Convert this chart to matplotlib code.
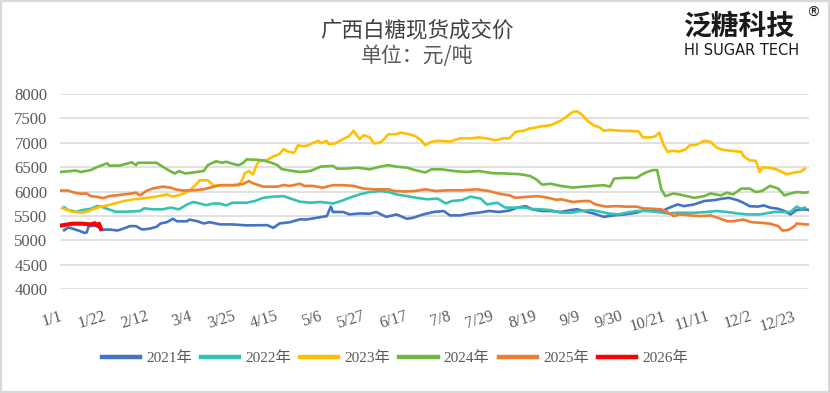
"""Guangxi white sugar spot price, one line per year (day-of-year on x)."""

import matplotlib

matplotlib.use("Agg")
import matplotlib.pyplot as plt  # noqa: E402
from matplotlib.patches import Rectangle  # noqa: E402

# day index (0 = 1/1, leap-year calendar) and price in yuan/ton
DAYS_2021 = [2, 4, 6, 10, 12, 13, 14, 18, 20, 24, 28, 31, 34, 37, 40, 44, 47, 49, 52, 55,
             57, 62, 63, 67, 70, 73, 78, 84, 91, 101, 104, 107, 112, 117, 120, 127, 130,
             132, 133, 138, 141, 146, 151, 154, 159, 164, 169, 172, 177, 182, 187, 190,
             195, 200, 204, 209, 214, 219, 223, 227, 230, 235, 239, 244, 249, 252, 257,
             260, 265, 270, 275, 281, 284, 289, 294, 297, 301, 304, 309, 314, 319, 323,
             326, 330, 333, 336, 340, 343, 346, 350, 353, 356, 359, 363, 365]
PRICE_2021 = [5205, 5260, 5240, 5185, 5150, 5160, 5290, 5300, 5215, 5220, 5200, 5240, 5290,
              5290, 5220, 5240, 5275, 5345, 5370, 5440, 5390, 5390, 5425, 5390, 5345, 5370,
              5325, 5325, 5305, 5310, 5255, 5345, 5370, 5430, 5425, 5475, 5495, 5690, 5580,
              5580, 5530, 5550, 5545, 5580, 5480, 5530, 5440, 5460, 5530, 5580, 5600, 5510,
              5510, 5550, 5565, 5600, 5580, 5610, 5670, 5700, 5635, 5600, 5600, 5580, 5620,
              5635, 5580, 5550, 5480, 5510, 5530, 5565, 5610, 5620, 5610, 5670, 5735, 5700,
              5735, 5805, 5825, 5855, 5870, 5825, 5770, 5700, 5690, 5715, 5670, 5645, 5600,
              5530, 5620, 5635, 5620]

DAYS_2022 = [2, 4, 8, 11, 15, 18, 20, 23, 27, 32, 39, 41, 45, 50, 54, 58, 62, 65, 68, 71,
             75, 78, 81, 84, 91, 95, 99, 104, 109, 112, 117, 122, 127, 133, 137, 141, 146,
             151, 156, 160, 164, 169, 174, 179, 184, 188, 191, 196, 200, 205, 208, 213,
             217, 222, 227, 229, 234, 239, 244, 249, 254, 259, 264, 267, 272, 276, 281,
             286, 291, 296, 301, 306, 310, 315, 320, 325, 330, 335, 341, 348, 353, 356,
             359, 361, 363]
PRICE_2022 = [5680, 5620, 5585, 5620, 5645, 5700, 5690, 5645, 5585, 5585, 5600, 5655, 5635,
              5635, 5670, 5635, 5735, 5785, 5755, 5720, 5755, 5750, 5715, 5770, 5770, 5805,
              5870, 5895, 5905, 5860, 5790, 5770, 5785, 5755, 5805, 5870, 5940, 5990, 6010,
              5990, 5940, 5905, 5870, 5840, 5855, 5755, 5805, 5825, 5895, 5855, 5735, 5770,
              5670, 5670, 5670, 5645, 5635, 5620, 5565, 5565, 5600, 5620, 5580, 5550, 5530,
              5565, 5600, 5600, 5580, 5550, 5565, 5565, 5565, 5580, 5600, 5580, 5550, 5530,
              5530, 5580, 5580, 5580, 5690, 5645, 5670]

DAYS_2023 = [1, 3, 6, 11, 14, 18, 23, 28, 31, 36, 41, 47, 52, 55, 59, 63, 66, 68, 72, 75,
             78, 83, 87, 89, 90, 92, 94, 96, 97, 101, 104, 107, 109, 111, 114, 116, 118,
             120, 123, 126, 127, 130, 131, 134, 138, 141, 143, 146, 148, 151, 153, 156,
             158, 160, 164, 166, 170, 173, 176, 178, 181, 184, 190, 195, 200, 204, 208,
             212, 216, 219, 222, 226, 229, 232, 235, 239, 244, 247, 250, 252, 254, 257,
             260, 263, 265, 268, 273, 278, 282, 284, 288, 290, 292, 294, 296, 298, 302,
             305, 307, 310, 314, 317, 320, 323, 327, 332, 333, 336, 339, 341, 342, 346,
             350, 354, 358, 361, 363]
PRICE_2023 = [5660, 5630, 5585, 5565, 5600, 5670, 5715, 5770, 5805, 5840, 5860, 5895, 5940,
              5895, 5940, 6010, 6130, 6230, 6230, 6115, 6130, 6130, 6130, 6250, 6370, 6420,
              6350, 6560, 6620, 6650, 6720, 6770, 6870, 6820, 6790, 6950, 6930, 6935, 6990,
              7040, 6990, 7040, 6970, 6985, 7075, 7140, 7245, 7075, 7155, 7110, 6985, 7005,
              7075, 7175, 7175, 7210, 7175, 7140, 7050, 6950, 7020, 7040, 7025, 7090, 7090,
              7110, 7090, 7050, 7090, 7090, 7225, 7245, 7295, 7315, 7340, 7360, 7450, 7540,
              7635, 7645, 7590, 7450, 7360, 7315, 7245, 7265, 7245, 7245, 7230, 7110, 7110,
              7130, 7210, 6970, 6815, 6835, 6820, 6870, 6950, 6957, 7040, 7020, 6900, 6855,
              6835, 6815, 6730, 6640, 6630, 6400, 6490, 6490, 6440, 6355, 6390, 6410, 6470]

DAYS_2024 = [0, 8, 10, 15, 18, 23, 24, 29, 35, 37, 38, 47, 50, 54, 56, 58, 61, 65, 70, 72,
             75, 76, 79, 81, 84, 87, 89, 91, 96, 99, 103, 106, 108, 112, 117, 122, 127,
             133, 135, 140, 145, 151, 156, 160, 164, 169, 173, 178, 181, 186, 192, 198,
             204, 211, 217, 224, 229, 232, 235, 239, 244, 250, 255, 260, 265, 268, 270,
             275, 281, 283, 286, 289, 291, 293, 295, 299, 304, 309, 314, 317, 322, 325,
             328, 332, 336, 339, 342, 346, 350, 353, 356, 359, 363, 365]
PRICE_2024 = [6400, 6430, 6400, 6440, 6500, 6580, 6530, 6530, 6600, 6540, 6590, 6590, 6510,
              6410, 6370, 6420, 6370, 6390, 6420, 6540, 6600, 6620, 6590, 6610, 6570, 6540,
              6580, 6660, 6650, 6640, 6590, 6540, 6460, 6430, 6400, 6420, 6510, 6525, 6470,
              6470, 6490, 6455, 6510, 6540, 6510, 6490, 6440, 6390, 6455, 6455, 6420, 6400,
              6420, 6375, 6370, 6355, 6320, 6250, 6140, 6160, 6115, 6080, 6100, 6115, 6130,
              6100, 6265, 6280, 6280, 6335, 6400, 6440, 6440, 6045, 5905, 5960, 5920, 5870,
              5905, 5960, 5920, 5975, 5940, 6060, 6060, 5990, 6010, 6115, 6060, 5920, 5960,
              5990, 5975, 5990]

DAYS_2025 = [0, 4, 7, 10, 13, 15, 18, 21, 24, 29, 34, 37, 39, 42, 45, 50, 54, 56, 60, 65,
             70, 75, 78, 84, 89, 92, 94, 99, 106, 109, 112, 117, 119, 123, 128, 133, 138,
             143, 148, 153, 160, 163, 168, 173, 178, 183, 189, 196, 203, 209, 214, 219,
             222, 227, 233, 238, 242, 244, 250, 255, 258, 261, 266, 271, 276, 281, 284,
             289, 293, 296, 299, 302, 307, 312, 317, 322, 325, 328, 333, 337, 341, 346,
             350, 352, 355, 358, 359, 363, 365]
PRICE_2025 = [6020, 6020, 5975, 5955, 5960, 5905, 5890, 5865, 5905, 5930, 5955, 5975, 5920,
              6010, 6060, 6100, 6080, 6045, 6020, 6025, 6045, 6100, 6130, 6130, 6150, 6215,
              6170, 6100, 6100, 6135, 6115, 6160, 6115, 6115, 6080, 6130, 6130, 6115, 6060,
              6045, 6045, 6010, 6000, 6010, 6045, 6010, 6025, 6025, 6045, 6010, 5955, 5920,
              5870, 5890, 5905, 5870, 5830, 5840, 5785, 5805, 5805, 5735, 5690, 5700, 5690,
              5690, 5655, 5645, 5635, 5580, 5495, 5530, 5510, 5495, 5510, 5440, 5390, 5390,
              5425, 5370, 5360, 5340, 5290, 5200, 5210, 5290, 5345, 5325, 5325]

DAYS_2026 = [0, 3, 6, 11, 15, 17, 18, 19, 20]
PRICE_2026 = [5300, 5320, 5340, 5340, 5325, 5350, 5300, 5340, 5230]

YEARS = ["2021年", "2022年", "2023年", "2024年", "2025年", "2026年"]
COLORS = ["#4472C4", "#33C2B4", "#FFC000", "#70B840", "#ED7D31", "#FF0000"]

TICK_DAYS = list(range(0, 366, 21))
TICK_LABELS = ["1/1", "1/22", "2/12", "3/4", "3/25", "4/15", "5/6", "5/27", "6/17",
               "7/8", "7/29", "8/19", "9/9", "9/30", "10/21", "11/11", "12/2", "12/23"]

SERIF = ["Liberation Serif", "Noto Sans CJK SC"]
CJK = ["Noto Sans CJK SC", "DejaVu Sans"]
GREY = "#595959"

fig = plt.figure(figsize=(8.3, 3.93), dpi=100)
ax = fig.add_axes([0.0723, 0.2646, 0.9024, 0.4962])

series = [(DAYS_2021, PRICE_2021), (DAYS_2022, PRICE_2022), (DAYS_2023, PRICE_2023),
          (DAYS_2024, PRICE_2024), (DAYS_2025, PRICE_2025), (DAYS_2026, PRICE_2026)]
for (days, prices), year, color in zip(series, YEARS, COLORS):
    lw = 2.9 if year == "2026年" else 1.9
    ax.plot(days, prices, color=color, lw=lw, label=year, solid_joinstyle="round")

ax.set_xlim(0, 365)
ax.set_ylim(4000, 8000)
ax.set_yticks(range(4000, 8001, 500))
ax.grid(axis="y", color="#D9D9D9", lw=1.1)
ax.set_axisbelow(True)
for side in ax.spines.values():
    side.set_visible(False)
ax.tick_params(length=0)
ax.tick_params(axis="y", pad=9, labelsize=12, labelcolor=GREY)
for t in ax.get_yticklabels():
    t.set_family(SERIF)

ax.set_xticks(TICK_DAYS)
ax.set_xticklabels(TICK_LABELS, rotation=17, ha="right", va="top",
                   rotation_mode="anchor", family=SERIF, fontsize=11.5, color=GREY)
ax.tick_params(axis="x", pad=14)

fig.text(0.502, 0.922, "广西白糖现货成交价", ha="center", va="center",
         family=CJK, fontsize=15.5, color="#404040")
fig.text(0.502, 0.858, "单位：元/吨", ha="center", va="center",
         family=CJK, fontsize=15, color="#595959")

# logo block at top right
fig.text(0.8225, 0.932, "泛糖科技", ha="left", va="center", family=CJK,
         fontsize=20, fontweight="bold", color="#1a1a1a")
fig.text(0.979, 0.968, "®", ha="center", va="center", family="DejaVu Sans",
         fontsize=10, color="#1a1a1a")
fig.text(0.8235, 0.872, "HI SUGAR TECH", ha="left", va="center", family="DejaVu Sans",
         fontsize=10.5, color="#1a1a1a")

leg = ax.legend(loc="center", bbox_to_anchor=(0.447, -0.354), ncol=6, frameon=False,
                handlelength=2.5, handletextpad=0.4, columnspacing=0.6,
                prop={"family": SERIF, "size": 11})
for txt in leg.get_texts():
    txt.set_color(GREY)
for line in leg.get_lines():
    line.set_linewidth(3.2)

fig.patches.append(Rectangle((0, 0), 1, 1, transform=fig.transFigure, fill=False,
                             edgecolor="#D9D9D9", lw=3))

fig.savefig("out.png", dpi=100)
